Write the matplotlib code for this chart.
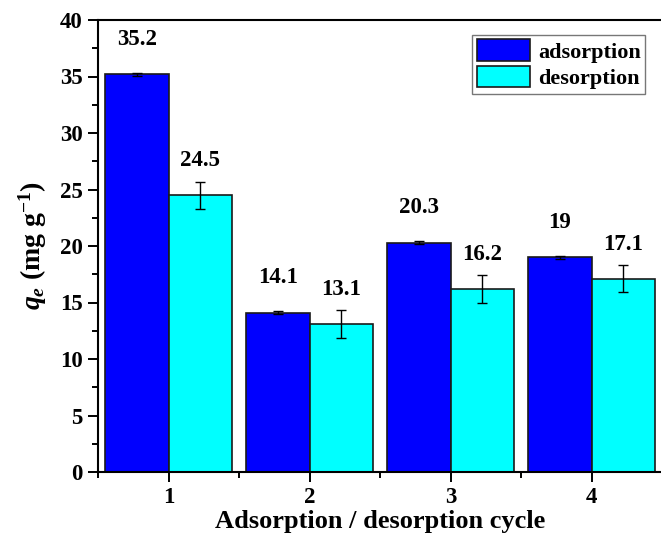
import matplotlib
matplotlib.use("Agg")
import matplotlib.pyplot as plt
from matplotlib.ticker import MultipleLocator, FixedLocator
import numpy as np

plt.rcParams['font.family'] = ['Liberation Serif', 'DejaVu Serif']
plt.rcParams['font.weight'] = 'bold'
plt.rcParams['mathtext.fontset'] = 'custom'
plt.rcParams['mathtext.rm'] = 'Liberation Serif:bold'
plt.rcParams['mathtext.it'] = 'Liberation Serif:bold:italic'
plt.rcParams['mathtext.bf'] = 'Liberation Serif:bold'

cycles = [1, 2, 3, 4]
cycle_labels = ['1', '2', '3', '4']
adsorption = [35.2, 14.1, 20.3, 19.0]
desorption = [24.5, 13.1, 16.2, 17.1]
adsorption_err = [0.15, 0.15, 0.15, 0.15]
desorption_err = [1.2, 1.2, 1.2, 1.2]
adsorption_text = ['35.2', '14.1', '20.3', '19']
desorption_text = ['24.5', '13.1', '16.2', '17.1']

W, H = 661, 534
fig = plt.figure(figsize=(W / 100, H / 100), dpi=100)
left, right, bottom, top = 98, 662.2, 472, 20
ax = fig.add_axes([left / W, (H - bottom) / H, (right - left) / W, (bottom - top) / H])

x = np.array(cycles, dtype=float)
bw = 0.45
err_kw = dict(ecolor='black', elinewidth=1.0, capsize=3.3, capthick=1.0)
ax.bar(x - bw / 2, adsorption, bw, yerr=adsorption_err, color='#0000FF',
       edgecolor='#1a1a1a', linewidth=1.2, label='adsorption', error_kw=err_kw, zorder=2)
ax.bar(x + bw / 2, desorption, bw, yerr=desorption_err, color='#00FFFF',
       edgecolor='#1a1a1a', linewidth=1.2, label='desorption', error_kw=err_kw, zorder=2)

for xi, v, t in zip(x - bw / 2, adsorption, adsorption_text):
    ax.annotate(t, (xi, v), xytext=(0, 25), textcoords='offset points',
                ha='center', va='center', fontsize=16.5, fontweight='bold')
for xi, v, t in zip(x + bw / 2, desorption, desorption_text):
    ax.annotate(t, (xi, v), xytext=(0, 25), textcoords='offset points',
                ha='center', va='center', fontsize=16.5, fontweight='bold')

ax.set_xlim(0.5, 4.5)
ax.set_ylim(0, 40)
ax.set_xticks(cycles)
ax.set_xticklabels(cycle_labels)
ax.xaxis.set_minor_locator(FixedLocator([0.5, 1.5, 2.5, 3.5]))
ax.yaxis.set_major_locator(MultipleLocator(5))
ax.yaxis.set_minor_locator(MultipleLocator(2.5))

ax.tick_params(which='both', direction='out', width=1.4, labelsize=16.5, top=False, right=False)
ax.tick_params(which='major', length=7, pad=4)
ax.tick_params(which='minor', length=4)
for lab in ax.get_xticklabels() + ax.get_yticklabels():
    lab.set_fontweight('bold')
for s in ax.spines.values():
    s.set_linewidth(1.5)

ax.set_xlabel('Adsorption / desorption cycle', fontsize=19, fontweight='bold', labelpad=1)
ax.set_ylabel(r'$q_e$ (mg g$^{-1}$)', fontsize=20, fontweight='bold', labelpad=8)

leg = ax.legend(loc='upper right', bbox_to_anchor=((645 - left) / (right - left), (bottom - 35) / (bottom - top)),
                prop={'size': 16, 'weight': 'bold'}, frameon=True, fancybox=False, edgecolor='#555555',
                handlelength=2.4, handleheight=1.1, handletextpad=0.35,
                labelspacing=0.15, borderpad=0.2, borderaxespad=0)
leg.get_frame().set_linewidth(1.0)

fig.savefig('out.png', dpi=100)
